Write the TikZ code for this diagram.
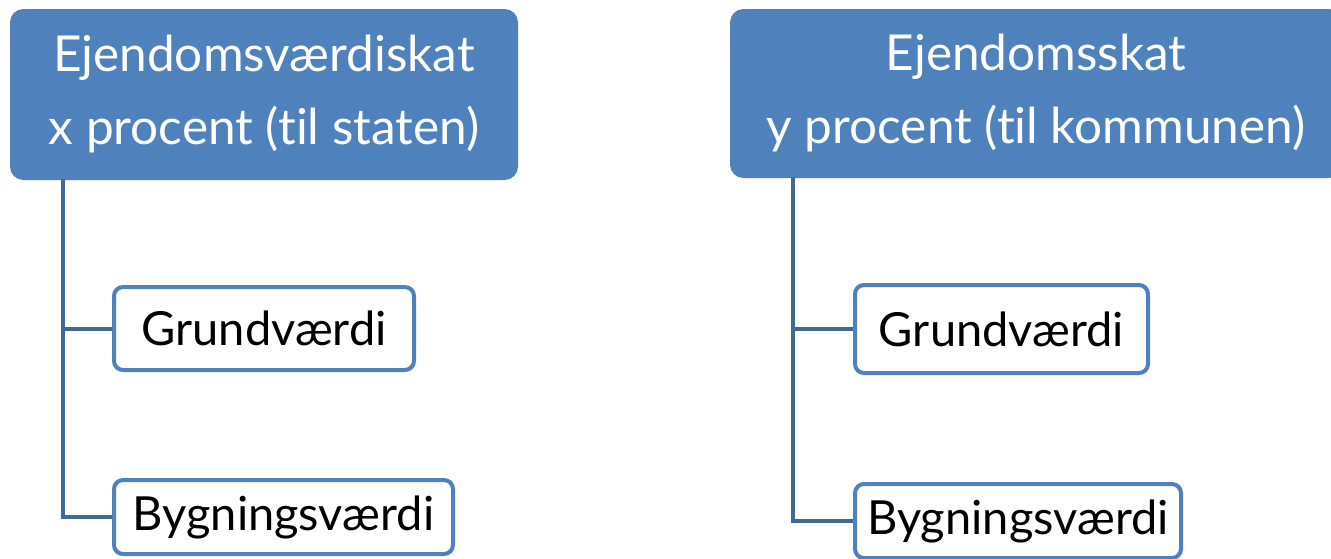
\documentclass[tikz,border=0pt]{standalone}
\usepackage{fontspec}
\setmainfont{Lato}[Ligatures=NoCommon]
\definecolor{accent}{HTML}{4F81BD}
\definecolor{linkblue}{HTML}{41679B}
\begin{document}
\begin{tikzpicture}[x=1pt,y=-1pt,
  header/.style={fill=accent,draw=accent,line width=1pt,rounded corners=13pt,
    text=white,align=center,inner sep=0pt,
    font=\fontsize{49.5}{73}\selectfont},
  leaf/.style={fill=white,draw=accent,line width=4pt,rounded corners=9pt,
    text=black,inner sep=0pt,font=\fontsize{47}{56}\selectfont},
  link/.style={draw=linkblue,line width=4pt}]
\useasboundingbox (0,0) rectangle (1331,558);
\clip (0,0) rectangle (1331,558);

% left tree: state tax
\node[header,minimum width=507pt,minimum height=170pt] (hl) at (264,94.5)
  {Ejendomsværdiskat\\x procent (til staten)};
\node[leaf,minimum width=300pt,minimum height=83pt] (lg) at (264,328.5) {Grundværdi};
\node[leaf,minimum width=339pt,minimum height=74pt] (lb) at (283.5,517) {Bygningsværdi};
\coordinate (lroot) at (63,179);
\draw[link] (lroot) |- (lg.west);
\draw[link] (lroot) |- (lb.west);

% right tree: municipal tax
\node[header,minimum width=611pt,minimum height=168pt] (hr) at (1036,93.5)
  {Ejendomsskat\\y procent (til kommunen)};
\node[leaf,minimum width=293pt,minimum height=88pt] (rg) at (1001.5,329) {Grundværdi};
\node[leaf,minimum width=326pt,minimum height=74pt] (rb) at (1018,521) {Bygningsværdi};
\coordinate (rroot) at (793,177);
\draw[link] (rroot) |- (rg.west);
\draw[link] (rroot) |- (rb.west);
\end{tikzpicture}
\end{document}
